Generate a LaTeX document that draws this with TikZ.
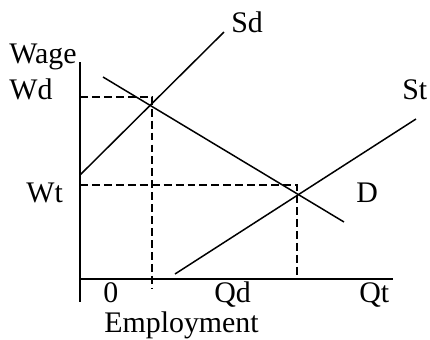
\documentclass[tikz,border=0pt]{standalone}
\usepackage{fontspec}
\setmainfont{Liberation Serif}
\begin{document}
\begin{tikzpicture}[x=0.2cm,y=0.2cm,font=\fontsize{17}{19}\selectfont]
  \tikzstyle{axis}=[line width=1.1pt]
  \tikzstyle{curve}=[line width=0.85pt]
  \tikzstyle{guide}=[line width=0.85pt,dash pattern=on 4.5pt off 2.3pt]
  \tikzstyle{lbl}=[anchor=base west,inner sep=0pt]
  \useasboundingbox (0,0) rectangle (43,33.9);
  % axes
  \coordinate (ytop) at (8,27.7);
  \coordinate (ybot) at (8,3.7);
  \coordinate (x0) at (8,6);
  \coordinate (xend) at (39.3,6);
  \draw[axis] (ytop) -- (ybot);
  \draw[axis] (x0) -- (xend);
  % curves
  \coordinate (sd0) at (8,16.4);
  \coordinate (sd1) at (22.4,30.7);
  \coordinate (d0) at (10.3,26.2);
  \coordinate (d1) at (34.4,11.7);
  \coordinate (st0) at (17.5,6.5);
  \coordinate (st1) at (41.6,22);
  \draw[curve] (sd0) -- (sd1);
  \draw[curve] (d0) -- (d1);
  \draw[curve] (st0) -- (st1);
  % guides
  \coordinate (wd) at (8,24.2);
  \coordinate (wdq) at (15.2,24.2);
  \coordinate (qd) at (15.2,5.1);
  \coordinate (wt) at (8,15.4);
  \coordinate (wtq) at (29.7,15.4);
  \coordinate (qt) at (29.7,6);
  \draw[guide] (wd) -- (wdq) -- (qd);
  \draw[guide] (wt) -- (wtq) -- (qt);
  % labels
  \node[lbl] (wage) at (0.9,27.6) {Wage};
  \node[lbl] (wdl) at (0.9,24) {Wd};
  \node[lbl] (wtl) at (2.6,13.7) {Wt};
  \node[lbl] (sdl) at (23.1,30.7) {Sd};
  \node[lbl] (stl) at (40.2,24) {St};
  \node[lbl] (dl) at (35.6,13.7) {D};
  \node[lbl] (zero) at (10.3,3.7) {0};
  \node[lbl] (qdl) at (21.4,3.7) {Qd};
  \node[lbl] (qtl) at (35.9,3.7) {Qt};
  \node[lbl] (emp) at (10.4,0.7) {Employment};
\end{tikzpicture}
\end{document}
